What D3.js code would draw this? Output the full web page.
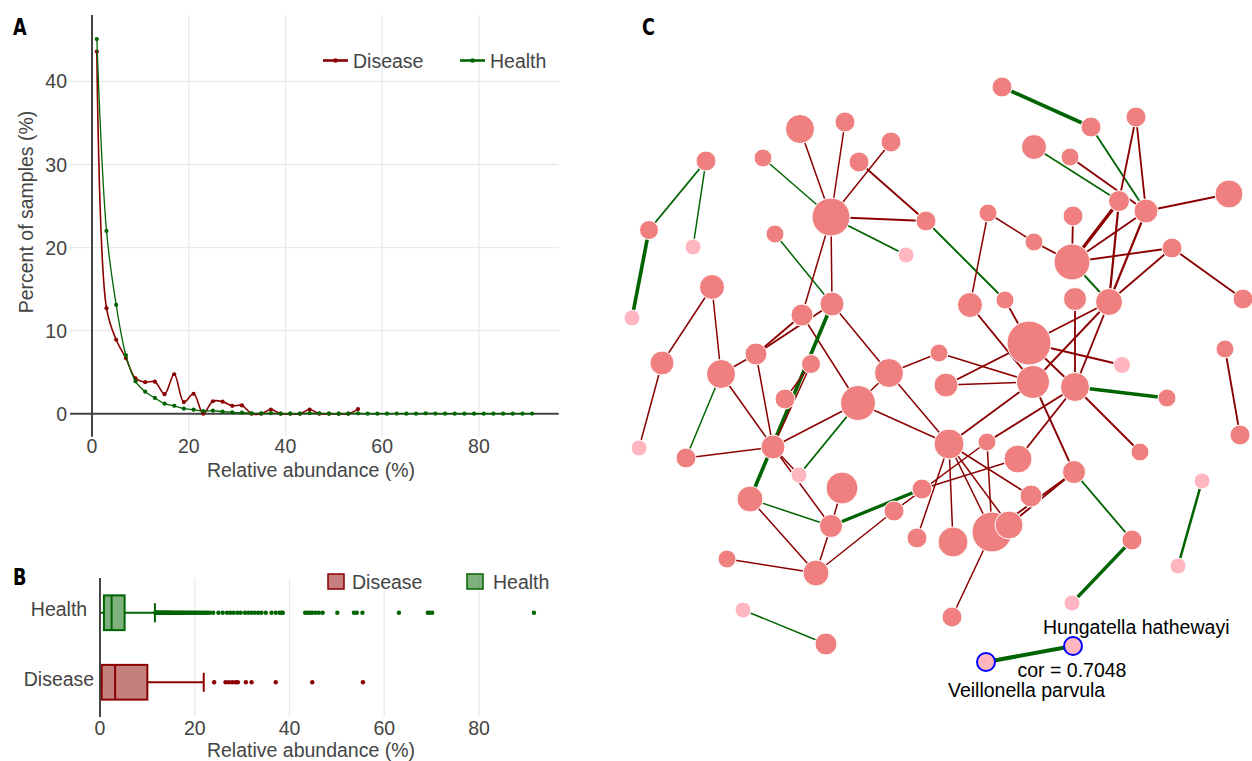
<!DOCTYPE html>
<html><head><meta charset="utf-8">
<script src="https://cdn.jsdelivr.net/npm/d3@7"></script>
<style>
body{margin:0;background:#fff}
svg{display:block}
text{font-family:"Liberation Sans",Arial,Helvetica,sans-serif}
</style>
</head><body>
<svg id="chart" width="1252" height="761"></svg>
<script>
// ---------------- DATA ----------------
// Panel A: distribution (bin centres, % of samples)
const healthBins = [1,3,5,7,9,11,13,15,17,19,21,23,25,27,29,31,33,35,37,39,41,43,45,47,49,51,53,55,57,59,61,63,65,67,69,71,73,75,77,79,81,83,85,87,89,91];
const healthPct  = [45.1,22.0,13.1,7.05,3.9,2.65,1.9,1.2,0.95,0.6,0.48,0.32,0.36,0.24,0.16,0.12,0.04,0.04,0.06,0.02,0.02,0.02,0.06,0.04,0.02,0,0.02,0.04,0,0,0,0.02,0,0,0.04,0.02,0,0,0,0,0,0,0,0,0,0.02];
const diseaseBins = [1,3,5,7,9,11,13,15,17,19,21,23,25,27,29,31,33,35,37,39,41,43,45,47,49,51,53,55];
const diseasePct  = [43.6,12.7,8.9,6.7,4.25,3.8,3.85,2.35,4.75,1.4,2.4,0,1.5,1.45,0.95,1.0,0,0,0.5,0,0,0,0.5,0,0,0,0,0.55];
const groups = ["Disease","Health"];
const groupColors = ["#8B0000","#006400"];
const xTicksA = [0,20,40,60,80];
const yTicksA = [0,10,20,30,40];

// Panel B: box plot statistics
const boxCats  = ["Health","Disease"];
const boxLowW  = [0, 0];
const boxQ1    = [0.84, 0.36];
const boxMed   = [2.46, 3.2];
const boxQ3    = [5.2, 10.0];
const boxHighW = [11.6, 21.9];
const healthOutliers = [11.7,11.8,11.9,12.0,12.1,12.3,12.4,12.5,12.7,12.8,13.0,13.1,13.3,13.5,13.6,13.8,14.0,14.1,14.3,14.5,14.7,14.9,15.0,15.2,15.4,15.6,15.9,16.1,16.3,16.6,16.8,17.0,17.3,17.5,17.8,18.0,18.3,18.6,18.9,19.2,19.5,19.8,20.1,20.4,20.8,21.1,21.5,21.9,22.3,22.7,23.2,23.9,25.0,25.9,26.8,27.5,28.2,29.0,29.7,30.6,31.3,32.0,32.7,33.4,34.1,35.0,36.2,37.1,37.9,38.3,38.6,43.3,43.8,44.3,44.8,45.5,46.2,47.0,50.1,53.6,54.2,55.4,63.1,69.2,69.6,70.1,91.6];
const diseaseOutliers = [24.1,26.5,27.2,27.9,28.6,29.1,30.8,32.0,37.1,44.8,55.5];
const xTicksB = [0,20,40,60,80];

// Panel C: co-occurrence network (layout coordinates, node size, kind)
const nodeIds = ["N1","N2","N3","N4","N5","N6","N7","N8","N9","N10","N11","C16","A1","A2","A3","A4","A5","A6","A7","A8","A9","A10","A11","A13","B6","C1","C2","C6","C7","B1","B2","B4","B5","B7","C3","C4","C5","C8","C9","C10","C11","B11","B3","B8","B14","B12","B9","B10","B13","C14","C13","C12","C15","B16","B17","B18","B19","B20","B15","B21","E1","E3","E4","E5","E6","E7","E8","E9","E10","E11","F2","F3","F4","F5","F6","F8","F9","F10","H1","H2"];
const nodeX = [800,845,891,859,763,706,649,693,831,926,775,906,1002,1091,1136,1034,1070,1119,1146,1229,988,1073,1034,1072,1172,632,712,802,832,970,1005,1075,1109,1243,662,721,756,811,785,858,889,939,1029,1122,1225,946,1033,1075,1167,639,686,773,799,949,987,1018,1140,1074,1240,1202,750,842,831,894,922,917,727,816,743,826,1031,992,1009,953,1132,1178,1072,952,1073,986];
const nodeY = [129,122,142,162,158,161,230,247,217,221,234,255,87,127,117,147,157,201,211,194,213,216,242,262,248,318,287,315,304,305,300,299,302,299,363,374,354,364,399,403,373,353,343,365,349,385,382,387,398,448,458,447,475,444,442,459,452,472,435,481,499,488,526,511,489,538,559,573,610,644,496,532,525,542,540,566,603,617,646,662];
const nodeSize = [14.5,10,10,10,9,10,9.5,8,19,10,9,8,10,10,10,12.5,9,10.5,12,14,9,10,9,18,10,8,12.5,11,12,12.5,9,11.5,13.5,10,12,14.5,11,9.5,10,17.5,14.5,9,22,8.5,9,12,16.5,14.5,9,8,10,12,8,15,9,14,9,11.5,10,8,13,16,11.5,10,10,10,9,13,8,11,11,20,14,15,10,8,8,10,9,9];
const nodeKind = ["c","c","c","c","c","c","c","p","c","c","c","p","c","c","c","c","c","c","c","c","c","c","c","c","c","p","c","c","c","c","c","c","c","c","c","c","c","c","c","c","c","c","c","p","c","c","c","c","c","p","c","c","p","c","c","c","c","c","c","p","c","c","c","c","c","c","c","c","p","c","c","c","c","c","c","p","p","c","h","h"];
// edges: source, target, sign (+ green / - red), |cor|
const edgeSrc = ["N1","N2","N3","N4","N5","N9","N9","N6","N6","N7","N11","N9","N9","N10","A1","A2","A3","A3","A4","A5","A7","A6","A7","A6","A7","A9","A9","A10","A11","A13","A13","B6","B6","B4","B5","B5","B5","B3","B3","B3","B2","B1","B11","B12","B9","B10","B10","B10","B10","B9","B14","B20","F6","B21","H1","C2","C2","C3","C4","C4","C4","C5","C5","C5","C7","C6","C7","C8","C10","C10","C11","C11","C12","C12","C10","C12","E1","E1","E3","E4","E4","E9","E8","E10","E7","F3","F5","B16","B16","B17","B20","B20","C9","C10","B16","E5","E6"];
const edgeTgt = ["N9","N9","N9","N10","N9","N10","C16","N7","N8","C1","C7","C6","C7","B2","A2","A7","A6","A7","A6","A7","A8","A13","A13","B5","B5","A11","B1","A13","A13","B6","B5","B5","B7","B10","B10","B3","B9","B8","B10","B12","B3","B9","B9","B9","B16","B17","B18","B13","B19","B20","B15","F6","F9","F8","H2","C3","C4","C14","C5","C13","C12","C12","C6","C7","C11","C10","E1","C12","C12","B16","B16","B11","C13","C15","C15","E4","E4","E9","E4","E6","E9","E5","E9","E11","B16","F10","B16","F3","F4","F3","F4","F3","C8","C11","F2","B17","B18"];
const edgeSign = [-1,-1,-1,-1,1,-1,1,1,1,1,1,-1,-1,1,1,1,-1,-1,1,-1,-1,-1,-1,-1,-1,-1,-1,-1,-1,-1,1,-1,-1,-1,-1,-1,-1,-1,-1,-1,-1,-1,-1,-1,-1,-1,-1,1,-1,-1,-1,1,1,1,1,-1,-1,-1,-1,1,-1,-1,-1,-1,-1,-1,1,-1,-1,-1,-1,-1,-1,-1,1,-1,1,-1,-1,1,-1,-1,-1,1,-1,-1,-1,-1,-1,-1,-1,-1,-1,-1,-1,-1,-1];
const edgeCor = [0.35,0.35,0.35,0.4,0.35,0.4,0.4,0.4,0.35,0.65,0.35,0.35,0.35,0.4,0.65,0.4,0.4,0.4,0.35,0.4,0.4,0.6,0.4,0.45,0.45,0.35,0.35,0.4,0.4,0.4,0.4,0.4,0.4,0.4,0.4,0.4,0.4,0.4,0.4,0.4,0.4,0.4,0.35,0.35,0.4,0.4,0.4,0.65,0.4,0.4,0.4,0.4,0.6,0.5,0.7048,0.35,0.35,0.35,0.35,0.35,0.35,0.35,0.4,0.4,0.35,0.35,0.65,0.35,0.35,0.35,0.35,0.35,0.35,0.35,0.4,0.35,0.35,0.35,0.35,0.6,0.35,0.35,0.35,0.35,0.35,0.35,0.35,0.35,0.35,0.35,0.4,0.4,0.35,0.35,0.35,0.35,0.35];
const hlLabels = ["Hungatella hathewayi","Veillonella parvula"];
const corLabel = "cor = 0.7048";

// ---------------- DRAW ----------------
const svg = d3.select("#chart");
const FONT = 19.5, GREY = "#444";
const panelFont = "'Liberation Sans Narrow','DejaVu Sans Condensed',Arial,sans-serif";

// ===== Panel A =====
const xA = d3.scaleLinear().domain([-4.55, 96.5]).range([70, 558.7]);
const yA = d3.scaleLinear().domain([-2.77, 48]).range([436.7, 15]);
const gA = svg.append("g");
gA.selectAll(".gx").data(xTicksA.filter(d=>d!==0)).join("line")
  .attr("x1",d=>xA(d)).attr("x2",d=>xA(d)).attr("y1",yA.range()[0]).attr("y2",yA.range()[1])
  .attr("stroke","#eaeaea").attr("stroke-width",1.3);
gA.selectAll(".gy").data(yTicksA.filter(d=>d!==0)).join("line")
  .attr("y1",d=>yA(d)).attr("y2",d=>yA(d)).attr("x1",xA.range()[0]).attr("x2",xA.range()[1])
  .attr("stroke","#eaeaea").attr("stroke-width",1.3);
gA.append("line").attr("x1",xA(0)).attr("x2",xA(0)).attr("y1",yA.range()[0]).attr("y2",yA.range()[1]).attr("stroke",GREY).attr("stroke-width",2);
gA.append("line").attr("y1",yA(0)).attr("y2",yA(0)).attr("x1",xA.range()[0]).attr("x2",xA.range()[1]).attr("stroke",GREY).attr("stroke-width",2);
gA.selectAll(".tx").data(xTicksA).join("text").attr("x",d=>xA(d)).attr("y",453).attr("text-anchor","middle")
  .attr("font-size",FONT).attr("fill",GREY).text(d=>d);
gA.selectAll(".ty").data(yTicksA).join("text").attr("x",67).attr("y",d=>yA(d)+7).attr("text-anchor","end")
  .attr("font-size",FONT).attr("fill",GREY).text(d=>d);
gA.append("text").attr("x",311).attr("y",477).attr("text-anchor","middle").attr("font-size",FONT).attr("fill",GREY).text("Relative abundance (%)");
gA.append("text").attr("transform","translate(32.5,212) rotate(-90)").attr("text-anchor","middle").attr("font-size",FONT).attr("fill",GREY).text("Percent of samples (%)");

const seriesA = [
  {name:groups[0], color:groupColors[0], xs:diseaseBins, ys:diseasePct, w:1.6},
  {name:groups[1], color:groupColors[1], xs:healthBins, ys:healthPct, w:1.3}
];
const line = d3.line().x(d=>xA(d[0])).y(d=>yA(d[1])).curve(d3.curveCatmullRom.alpha(0.5));
seriesA.forEach(s=>{
  const pts = s.xs.map((x,i)=>[x,s.ys[i]]);
  gA.append("path").attr("d",line(pts)).attr("fill","none").attr("stroke",s.color).attr("stroke-width",s.w);
  gA.selectAll(null).data(pts).join("circle").attr("cx",d=>xA(d[0])).attr("cy",d=>yA(d[1])).attr("r",2.1).attr("fill",s.color);
});
// legend A
const legAx = [323, 460];
seriesA.forEach((s,i)=>{
  const lx = legAx[i];
  gA.append("line").attr("x1",lx).attr("x2",lx+25).attr("y1",60.5).attr("y2",60.5).attr("stroke",s.color).attr("stroke-width",2.6);
  gA.append("circle").attr("cx",lx+12.5).attr("cy",60.5).attr("r",2.3).attr("fill",s.color);
  gA.append("text").attr("x",lx+30).attr("y",68).attr("font-size",FONT).attr("fill",GREY).text(s.name);
});
svg.append("text").attr("transform","translate(13,35) scale(0.85,1)").attr("font-size",23).attr("font-weight","bold")
  .style("font-family",panelFont).text("A");

// ===== Panel B =====
const xB = d3.scaleLinear().domain([-0.5, 96.8]).range([97.6, 558.6]);
const yB = d3.scaleBand().domain(boxCats).range([578, 717]).padding(0);
const gB = svg.append("g");
gB.selectAll(".gbx").data(xTicksB.filter(d=>d!==0)).join("line")
  .attr("x1",d=>xB(d)).attr("x2",d=>xB(d)).attr("y1",578).attr("y2",717)
  .attr("stroke","#eaeaea").attr("stroke-width",1.3);
gB.selectAll(".tbx").data(xTicksB).join("text").attr("x",d=>xB(d)).attr("y",735).attr("text-anchor","middle")
  .attr("font-size",FONT).attr("fill",GREY).text(d=>d);
gB.selectAll(".tby").data(boxCats).join("text").attr("x",59).attr("y",d=>yB(d)+yB.bandwidth()/2+3.5).attr("text-anchor","middle")
  .attr("font-size",FONT).attr("fill",GREY).text(d=>d);
gB.append("text").attr("x",311).attr("y",756.5).attr("text-anchor","middle").attr("font-size",FONT).attr("fill",GREY).text("Relative abundance (%)");

const boxColor = {"Health":groupColors[1], "Disease":groupColors[0]};
const boxFill = {"Health":"rgba(0,100,0,0.5)", "Disease":"rgba(139,0,0,0.5)"};
const outl = {"Health":healthOutliers, "Disease":diseaseOutliers};
boxCats.forEach((c,i)=>{
  const cy = yB(c)+yB.bandwidth()/2, bh = yB.bandwidth()*0.5, ch = 19;
  const col = boxColor[c];
  gB.append("line").attr("x1",xB(boxQ3[i])).attr("x2",xB(boxHighW[i])).attr("y1",cy).attr("y2",cy).attr("stroke",col).attr("stroke-width",2);
  gB.append("line").attr("x1",xB(boxLowW[i])).attr("x2",xB(boxQ1[i])).attr("y1",cy).attr("y2",cy).attr("stroke",col).attr("stroke-width",2);
  gB.append("line").attr("x1",xB(boxHighW[i])).attr("x2",xB(boxHighW[i])).attr("y1",cy-ch/2).attr("y2",cy+ch/2).attr("stroke",col).attr("stroke-width",2);
  gB.append("line").attr("x1",xB(boxLowW[i])).attr("x2",xB(boxLowW[i])).attr("y1",cy-ch/2).attr("y2",cy+ch/2).attr("stroke",col).attr("stroke-width",2);
  gB.append("rect").attr("x",xB(boxQ1[i])).attr("y",cy-bh/2).attr("width",xB(boxQ3[i])-xB(boxQ1[i])).attr("height",bh)
    .attr("fill",boxFill[c]).attr("stroke",col).attr("stroke-width",2);
  gB.append("line").attr("x1",xB(boxMed[i])).attr("x2",xB(boxMed[i])).attr("y1",cy-bh/2).attr("y2",cy+bh/2).attr("stroke",col).attr("stroke-width",2);
  gB.selectAll(null).data(outl[c]).join("circle").attr("cx",d=>xB(d)).attr("cy",cy).attr("r",2.2).attr("fill",col);
});
gB.append("line").attr("x1",xB(0)).attr("x2",xB(0)).attr("y1",578).attr("y2",717).attr("stroke",GREY).attr("stroke-width",2);
// legend B
const legBx = [328, 467];
groups.forEach((g,i)=>{
  const lx = legBx[i];
  gB.append("rect").attr("x",lx).attr("y",574).attr("width",16).attr("height",15)
    .attr("fill",boxFill[g]).attr("stroke",boxColor[g]).attr("stroke-width",1.5);
  gB.append("text").attr("x",lx+24+(i?2:0)).attr("y",589).attr("font-size",FONT).attr("fill",GREY).text(g);
});
svg.append("text").attr("transform","translate(13,585) scale(0.85,1)").attr("font-size",23).attr("font-weight","bold")
  .style("font-family",panelFont).text("B");

// ===== Panel C =====
const xC = d3.scaleLinear().domain([620,1252]).range([620,1252]);
const yC = d3.scaleLinear().domain([0,761]).range([0,761]);
const rC = d3.scaleLinear().domain([0,22]).range([0,22]);
const wC = d3.scaleLinear().domain([0.35,0.7]).range([1.5,4]);
const nodes = nodeIds.map((id,i)=>({id, x:nodeX[i], y:nodeY[i], r:nodeSize[i], kind:nodeKind[i]}));
const byId = new Map(nodes.map(n=>[n.id,n]));
const edges = edgeSrc.map((s,i)=>({s:byId.get(s), t:byId.get(edgeTgt[i]), sign:edgeSign[i], cor:edgeCor[i]}));
const gC = svg.append("g");
gC.selectAll("line").data(edges).join("line")
  .attr("x1",d=>xC(d.s.x)).attr("y1",d=>yC(d.s.y)).attr("x2",d=>xC(d.t.x)).attr("y2",d=>yC(d.t.y))
  .attr("stroke",d=>d.sign>0?"#006400":"#8B0000").attr("stroke-width",d=>wC(d.cor));
const fillC = {c:"#F08080", p:"#FFB6C1", h:"#FFB6C1"};
gC.selectAll("circle").data(nodes).join("circle")
  .attr("cx",d=>xC(d.x)).attr("cy",d=>yC(d.y)).attr("r",d=>rC(d.r))
  .attr("fill",d=>fillC[d.kind]).attr("stroke",d=>d.kind==="h"?"#0000FF":"#fff").attr("stroke-width",d=>d.kind==="h"?2:1);
const h1 = byId.get("H1"), h2 = byId.get("H2");
gC.append("text").attr("x",xC(h1.x)-30).attr("y",yC(h1.y)-12).attr("font-size",FONT).attr("fill","#000").text(hlLabels[0]);
gC.append("text").attr("x",xC(h2.x)-38).attr("y",yC(h2.y)+35).attr("font-size",FONT).attr("fill","#000").text(hlLabels[1]);
gC.append("text").attr("x",xC((h1.x+h2.x)/2)-12).attr("y",yC((h1.y+h2.y)/2)+23).attr("font-size",FONT).attr("fill","#000").text(corLabel);
svg.append("text").attr("transform","translate(642,35) scale(0.85,1)").attr("font-size",23).attr("font-weight","bold")
  .style("font-family",panelFont).text("C");
</script>
</body></html>
